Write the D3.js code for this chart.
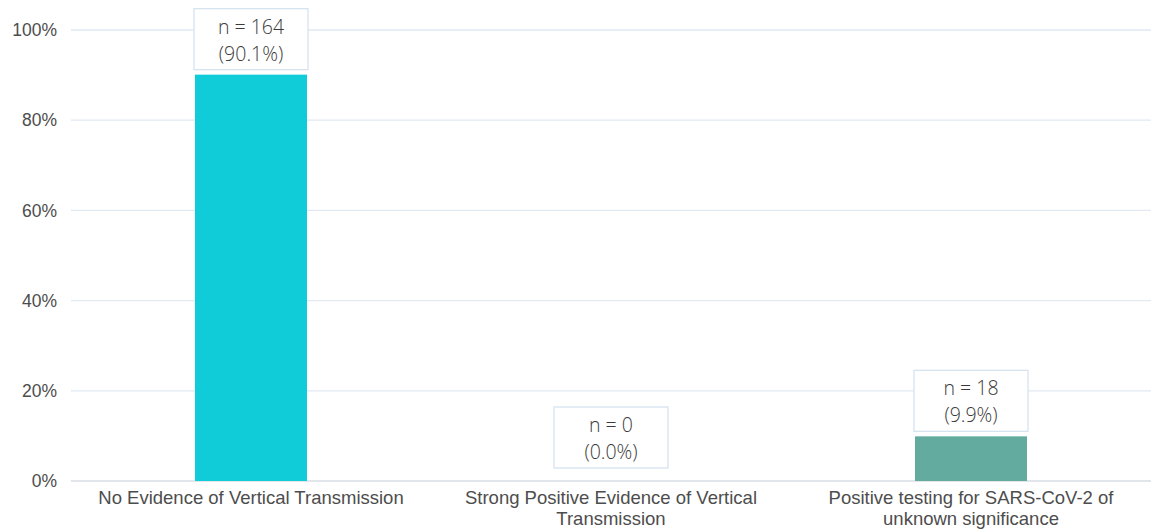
<!DOCTYPE html>
<html>
<head>
<meta charset="utf-8">
<script src="https://cdn.jsdelivr.net/npm/d3@7"></script>
<style>
  html, body { margin: 0; padding: 0; background: #fff; }
  svg { display: block; }
</style>
</head>
<body>
<svg id="chart" width="1151" height="531"></svg>
<script>
const categories = [
  ["No Evidence of Vertical Transmission"],
  ["Strong Positive Evidence of Vertical", "Transmission"],
  ["Positive testing for SARS-CoV-2 of", "unknown significance"]
];
const counts = [164, 0, 18];
const percents = [90.1, 0.0, 9.9];
const barColors = ["#10cbd8", "#63ab9f", "#63ab9f"];
const yTicks = [0, 20, 40, 60, 80, 100];

(function () {
const mLeft = 71, mRight = 1151, mTop = 30, mBottom = 481;
const svg = d3.select("#chart");

const x = d3.scaleBand().domain(d3.range(categories.length)).range([mLeft, mRight]).padding(0);
const y = d3.scaleLinear().domain([0, 100]).range([mBottom, mTop]);
const barW = 112;

// gridlines
svg.append("g").selectAll("line").data(yTicks).join("line")
  .attr("x1", mLeft).attr("x2", mRight)
  .attr("y1", d => y(d)).attr("y2", d => y(d))
  .attr("stroke", d => d === 0 ? "#d9dde2" : "#e1e9f3")
  .attr("stroke-width", d => d === 0 ? 1.5 : 1.3);

// y axis labels
const yAxis = d3.axisLeft(y).tickValues(yTicks).tickFormat(d => d + "%").tickSize(0).tickPadding(0);
const gy = svg.append("g").attr("transform", `translate(57,0)`).call(yAxis);
gy.select(".domain").remove();
gy.selectAll("text")
  .attr("font-family", "Liberation Sans, Arial, sans-serif")
  .attr("font-size", 17.5).attr("fill", "#4d4d4d");

// bars
svg.append("g").selectAll("rect").data(percents).join("rect")
  .attr("x", (d, i) => x(i) + x.bandwidth() / 2 - barW / 2)
  .attr("width", barW)
  .attr("y", d => y(d))
  .attr("height", d => y(0) - y(d))
  .attr("fill", (d, i) => barColors[i]);

// value label boxes
const boxW = 114;
const boxH = 61;
const lg = svg.append("g").selectAll("g").data(percents).join("g")
  .attr("transform", (d, i) => `translate(${x(i) + x.bandwidth() / 2},${y(d) - (d > 0 ? 5 : 13)})`);
lg.append("rect")
  .attr("x", -boxW / 2).attr("y", -boxH)
  .attr("width", boxW).attr("height", boxH)
  .attr("fill", "#fff").attr("stroke", "#d6e4f0").attr("stroke-width", 1.3);
const lt = lg.append("text").attr("text-anchor", "middle").attr("y", -boxH + 25)
  .attr("font-family", "Open Sans, sans-serif").attr("font-weight", 300)
  .attr("font-size", 19.5).attr("fill", "#3a3a3a");
lt.append("tspan").attr("x", 0).attr("dy", 0)
  .text((d, i) => "n = " + counts[i]);
lt.append("tspan").attr("x", 0).attr("dy", 27)
  .text(d => "(" + d.toFixed(1) + "%)");

// category labels
const cg = svg.append("g").selectAll("text").data(categories).join("text")
  .attr("x", (d, i) => x(i) + x.bandwidth() / 2)
  .attr("y", 504)
  .attr("text-anchor", "middle")
  .attr("font-family", "Liberation Sans, Arial, sans-serif")
  .attr("font-size", 18.5).attr("fill", "#4d4d4d");
cg.selectAll("tspan").data(d => d).join("tspan")
  .attr("x", function() { return this.parentNode.getAttribute("x"); })
  .attr("dy", (d, j) => j === 0 ? 0 : 21)
  .text(d => d);
})();
</script>
</body>
</html>
